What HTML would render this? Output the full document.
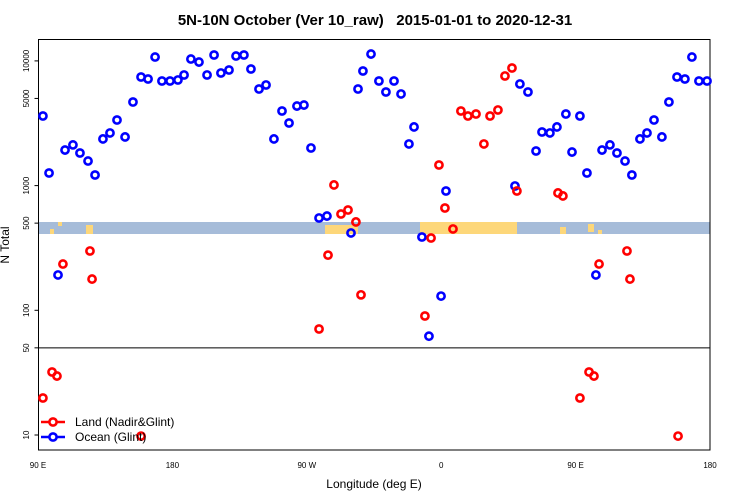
<!DOCTYPE html>
<html><head><meta charset="utf-8"><style>
body{margin:0;background:#fff;}
svg{display:block;font-family:"Liberation Sans",sans-serif;}
</style></head><body>
<svg width="750" height="500" viewBox="0 0 750 500">
<text x="375" y="25" text-anchor="middle" font-size="15" font-weight="bold" style="white-space:pre" xml:space="preserve">5N-10N October (Ver 10_raw)   2015-01-01 to 2020-12-31</text>
<g id="band"></g>
<g id="axes"></g>
<g id="marks"></g>
<text x="374" y="488" text-anchor="middle" font-size="12">Longitude (deg E)</text>
<text transform="translate(9,245) rotate(-90)" text-anchor="middle" font-size="12">N Total</text>
<g>
<line x1="41" y1="422" x2="65" y2="422" stroke="#f00" stroke-width="2.5"/>
<circle cx="53" cy="422" r="3.6" fill="#fff" stroke="#f00" stroke-width="2.6"/>
<text x="75" y="426" font-size="12">Land (Nadir&amp;Glint)</text>
<line x1="41" y1="437" x2="65" y2="437" stroke="#00f" stroke-width="2.5"/>
<circle cx="53" cy="437" r="3.6" fill="#fff" stroke="#00f" stroke-width="2.6"/>
<text x="75" y="441" font-size="12">Ocean (Glint)</text>
</g>
</svg>
<script>
const xTickVals=[90,180,270,360,450,540];
const xTickLabels=["90 E","180","90 W","0","90 E","180"];
const yTickVals=[10,50,100,500,1000,5000,10000];
const oceanLon=[93.3,97.4,103.4,108.1,113.4,118.1,123.5,128.2,133.5,138.2,142.9,148.3,153.6,159,163.7,168.4,173,178.4,183.7,187.8,192.4,197.8,203.2,207.9,212.5,217.9,222.6,227.9,232.6,238,242.7,248,253.4,258.1,263.4,268.1,272.8,278.2,283.5,299.6,304.3,307.6,313,318.3,323,328.4,333.1,338.4,341.8,347.1,351.8,359.9,363.2,409.4,412.7,418.1,423.5,427.5,432.8,437.5,443.5,447.6,452.9,457.6,463.6,467.7,473,477.7,483.1,487.7,493.1,497.8,502.5,507.8,512.5,517.9,523.2,527.9,532.6,538];
const oceanVal=[3614,1262,192,1928,2120,1826,1574,1216,2366,2643,3357,2455,4680,7430,7160,10740,6900,6900,7030,7710,10350,9790,7710,11150,8000,8450,10940,11150,8610,5950,6410,2366,3965,3177,4345,4426,2003,550,570,417,5950,8300,11350,6900,5630,6900,5430,2157,2953,387,62,130,905,993,6530,5630,1894,2690,2643,2953,3750,1858,3614,1262,192,1928,2120,1826,1574,1216,2366,2643,3357,2455,4680,7430,7160,10740,6900,6900];
const landLon=[93.3,99.4,102.7,106.7,124.8,126.2,159,278.2,284.2,288.2,292.9,297.6,302.9,306.3,349.1,353.2,358.5,362.5,367.9,373.2,377.9,383.3,388.6,392.7,398,402.7,407.4,410.7,438.2,441.5,452.9,459,462.3,465.7,484.4,486.4,518.6];
const landVal=[19.8,32,29.7,235,299,178,9.8,70.8,277,1012,592,637,511,133,90,380,1463,661,449,3965,3614,3750,2157,3614,4040,7570,8770,905,873,826,19.8,32,29.7,235,299,178,9.8];
const NS='http://www.w3.org/2000/svg';
const L=38.5,R=710,T=39.5,B=450;
function X(d){return 38+(d-90)/450*672;}
function Y(v){return 435-(Math.log10(v)-1)*124.7;}
function mk(tag,attrs,parent){const e=document.createElementNS(NS,tag);for(const k in attrs)e.setAttribute(k,attrs[k]);parent.appendChild(e);return e;}
const band=document.getElementById('band');
mk('rect',{x:L,y:222,width:R-L,height:12,fill:'#a6bcd9'},band);
[[325,358,225,234],[420,517,222,234],[50,54,229,234],[58,62,222,226],[86,93,225,234],[560,566,227,234],[588,594,224,232],[598,602,230,234]].forEach(s=>{mk('rect',{x:s[0],y:s[2],width:s[1]-s[0],height:s[3]-s[2],fill:'#fdd77a'},band);});
const ax=document.getElementById('axes');
const frame=mk('rect',{x:L,y:T,width:R-L,height:B-T,fill:'none',stroke:'#000','stroke-width':1},ax);


const sep=mk('line',{x1:L,x2:R,y1:Y(50),y2:Y(50),stroke:'#000','stroke-width':1},ax);


xTickVals.forEach((d,i)=>{
 const t=mk('text',{x:X(d),y:468,'text-anchor':'middle','font-size':8},ax);
 t.textContent=xTickLabels[i];
 
 
});
yTickVals.forEach(v=>{
 const y=Y(v);
 mk('line',{x1:L-4,x2:L,y1:y,y2:y,stroke:'#000'},ax);
 const t=mk('text',{transform:`translate(29,${y}) rotate(-90)`,'text-anchor':'middle','font-size':8},ax);
 t.textContent=String(v);
 
 
});
const mg=document.getElementById('marks');
oceanLon.forEach((d,i)=>{
 const c=mk('circle',{cx:X(d),cy:Y(oceanVal[i]),r:3.6,fill:'none',stroke:'#00f','stroke-width':2.6},mg);
 
 
});
landLon.forEach((d,i)=>{
 const c=mk('circle',{cx:X(d),cy:Y(landVal[i]),r:3.6,fill:'none',stroke:'#f00','stroke-width':2.6},mg);
 
 
});
</script>
</body></html>
